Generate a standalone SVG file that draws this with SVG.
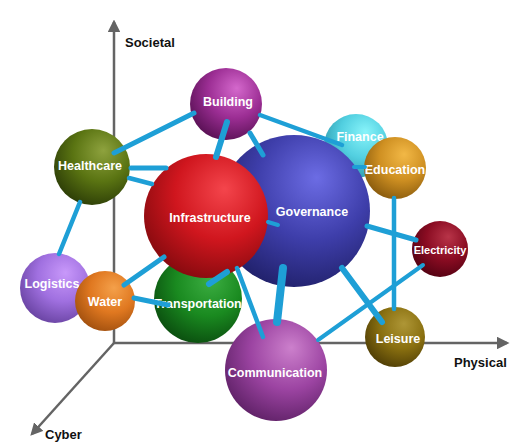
<svg xmlns="http://www.w3.org/2000/svg" width="517" height="448" viewBox="0 0 517 448">
<style>
.ax{stroke:#646464;stroke-width:2.5;fill:none}
.axl{font-family:"Liberation Sans",Arial,sans-serif;font-weight:bold;font-size:13px;fill:#111}
.lbl{font-family:"Liberation Sans",Arial,sans-serif;font-weight:bold;font-size:12.5px;fill:#fff;text-anchor:middle}
.c{stroke:#1e9fd6;stroke-linecap:round;fill:none}
</style>
<defs>
<marker id="ah" viewBox="0 0 10 10" refX="8" refY="5" markerWidth="5" markerHeight="5" orient="auto" markerUnits="strokeWidth">
<path d="M0,0 L10,5 L0,10 z" fill="#646464"/>
</marker>
<radialGradient id="gBuilding" cx="0.6" cy="0.35" r="0.75" fx="0.65" fy="0.28"><stop offset="0" stop-color="#d468cc"/><stop offset="0.5" stop-color="#9c2e94"/><stop offset="1" stop-color="#4e0c4a"/></radialGradient>
<radialGradient id="gHealth" cx="0.6" cy="0.35" r="0.75" fx="0.65" fy="0.28"><stop offset="0" stop-color="#8ea23e"/><stop offset="0.5" stop-color="#5a7412"/><stop offset="1" stop-color="#253405"/></radialGradient>
<radialGradient id="gInfra" cx="0.6" cy="0.35" r="0.75" fx="0.65" fy="0.28"><stop offset="0" stop-color="#f4454c"/><stop offset="0.5" stop-color="#d0161e"/><stop offset="1" stop-color="#7a080c"/></radialGradient>
<radialGradient id="gGov" cx="0.6" cy="0.35" r="0.75" fx="0.65" fy="0.28"><stop offset="0" stop-color="#6c6ce4"/><stop offset="0.5" stop-color="#3e3eaa"/><stop offset="1" stop-color="#1c1c60"/></radialGradient>
<radialGradient id="gFin" cx="0.6" cy="0.35" r="0.75" fx="0.65" fy="0.28"><stop offset="0" stop-color="#88f4fa"/><stop offset="0.5" stop-color="#52cfe0"/><stop offset="1" stop-color="#2890a4"/></radialGradient>
<radialGradient id="gEdu" cx="0.6" cy="0.35" r="0.75" fx="0.65" fy="0.28"><stop offset="0" stop-color="#f2b846"/><stop offset="0.5" stop-color="#cf9022"/><stop offset="1" stop-color="#7e520a"/></radialGradient>
<radialGradient id="gElec" cx="0.6" cy="0.35" r="0.75" fx="0.65" fy="0.28"><stop offset="0" stop-color="#b83448"/><stop offset="0.5" stop-color="#8a0c22"/><stop offset="1" stop-color="#4a0010"/></radialGradient>
<radialGradient id="gLei" cx="0.6" cy="0.35" r="0.75" fx="0.65" fy="0.28"><stop offset="0" stop-color="#ae9636"/><stop offset="0.5" stop-color="#8a7010"/><stop offset="1" stop-color="#463604"/></radialGradient>
<radialGradient id="gCom" cx="0.6" cy="0.35" r="0.75" fx="0.65" fy="0.28"><stop offset="0" stop-color="#cc80cc"/><stop offset="0.5" stop-color="#9c44a2"/><stop offset="1" stop-color="#561c5e"/></radialGradient>
<radialGradient id="gTra" cx="0.6" cy="0.35" r="0.75" fx="0.65" fy="0.28"><stop offset="0" stop-color="#3cae42"/><stop offset="0.5" stop-color="#1a8a20"/><stop offset="1" stop-color="#08440c"/></radialGradient>
<radialGradient id="gWat" cx="0.6" cy="0.35" r="0.75" fx="0.65" fy="0.28"><stop offset="0" stop-color="#f4a04a"/><stop offset="0.5" stop-color="#e07820"/><stop offset="1" stop-color="#984a0c"/></radialGradient>
<radialGradient id="gLog" cx="0.6" cy="0.35" r="0.75" fx="0.65" fy="0.28"><stop offset="0" stop-color="#c898fa"/><stop offset="0.5" stop-color="#a070e0"/><stop offset="1" stop-color="#603c98"/></radialGradient>
</defs>
<rect width="517" height="448" fill="#fff"/>
<g id="axes">
<line class="ax" x1="114" y1="343" x2="114" y2="22" marker-end="url(#ah)"/>
<line class="ax" x1="114" y1="343" x2="507" y2="343" marker-end="url(#ah)"/>
<line class="ax" x1="114" y1="343" x2="32" y2="434" marker-end="url(#ah)"/>
<text class="axl" x="125" y="47">Societal</text>
<text class="axl" x="454" y="367">Physical</text>
<text class="axl" x="45" y="439">Cyber</text>
</g>
<g id="n-finance"><circle cx="356" cy="146" r="32" fill="url(#gFin)"/><text class="lbl" x="360" y="141">Finance</text></g>
<g id="n-governance"><circle cx="294" cy="211" r="76" fill="url(#gGov)"/><text class="lbl" x="312" y="216">Governance</text></g>
<g id="n-education"><circle cx="395" cy="168" r="31" fill="url(#gEdu)"/><text class="lbl" x="395" y="174">Education</text></g>
<g id="n-electricity"><circle cx="440" cy="249" r="28" fill="url(#gElec)"/><text class="lbl" x="440" y="254" style="font-size:11px">Electricity</text></g>
<g id="n-leisure"><circle cx="395" cy="337" r="30" fill="url(#gLei)"/><text class="lbl" x="398" y="343">Leisure</text></g>
<g id="n-building"><circle cx="226" cy="104" r="36" fill="url(#gBuilding)"/><text class="lbl" x="228" y="106">Building</text></g>
<g id="n-healthcare"><circle cx="92" cy="167" r="38" fill="url(#gHealth)"/><text class="lbl" x="90" y="170">Healthcare</text></g>
<g id="n-transportation"><circle cx="198" cy="299" r="44" fill="url(#gTra)"/><text class="lbl" x="198" y="308">Transportation</text></g>
<g id="n-infrastructure"><circle cx="206" cy="216" r="62" fill="url(#gInfra)"/><text class="lbl" x="210" y="222">Infrastructure</text></g>
<g id="n-communication"><circle cx="276" cy="370" r="51" fill="url(#gCom)"/><text class="lbl" x="275" y="377">Communication</text></g>
<g id="n-logistics"><circle cx="55" cy="288" r="35" fill="url(#gLog)"/><text class="lbl" x="52" y="288">Logistics</text></g>
<g id="n-water"><circle cx="105" cy="301" r="30" fill="url(#gWat)"/><text class="lbl" x="105" y="306">Water</text></g>
<g id="connectors">
<line class="c" x1="114" y1="153" x2="194" y2="113" stroke-width="5"/>
<line class="c" x1="227" y1="122" x2="216" y2="157" stroke-width="6"/>
<line class="c" x1="250" y1="133" x2="263" y2="155" stroke-width="5"/>
<line class="c" x1="260" y1="115" x2="342" y2="145" stroke-width="4.5"/>
<line class="c" x1="131" y1="168" x2="166" y2="168" stroke-width="5"/>
<line class="c" x1="129" y1="178" x2="152" y2="184" stroke-width="4.5"/>
<line class="c" x1="80" y1="202" x2="59" y2="254" stroke-width="4.5"/>
<line class="c" x1="124" y1="285" x2="164" y2="257" stroke-width="5"/>
<line class="c" x1="134" y1="298" x2="168" y2="305" stroke-width="5"/>
<line class="c" x1="209" y1="284" x2="227" y2="272" stroke-width="6"/>
<line class="c" x1="237" y1="268" x2="263" y2="337" stroke-width="4.5"/>
<line class="c" x1="283" y1="268" x2="277" y2="322" stroke-width="8"/>
<line class="c" x1="342" y1="268" x2="382" y2="322" stroke-width="6"/>
<line class="c" x1="367" y1="226" x2="416" y2="240" stroke-width="5"/>
<line class="c" x1="394" y1="198" x2="394" y2="309" stroke-width="4.5"/>
<line class="c" x1="318" y1="340" x2="423" y2="265" stroke-width="4"/>
<line class="c" x1="354" y1="167" x2="365" y2="167" stroke-width="4"/>
<line class="c" x1="268" y1="222" x2="278" y2="225" stroke-width="4"/>
</g>
</svg>
